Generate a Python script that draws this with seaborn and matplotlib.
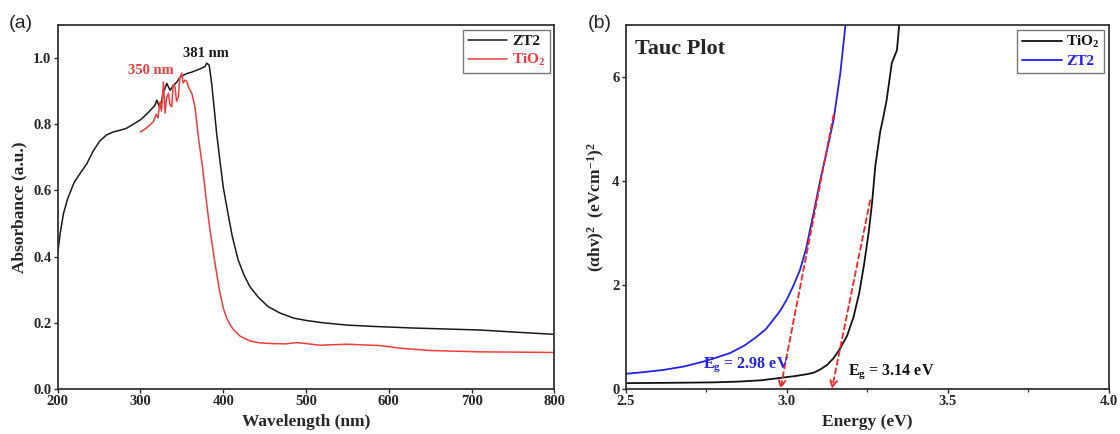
import numpy as np
import pandas as pd
import matplotlib
matplotlib.use("Agg")
import matplotlib.pyplot as plt
import seaborn as sns

# ---- (a) UV-vis absorbance ----
zt2_wl = [200, 203, 207, 212, 220, 228, 235, 243, 251, 259, 267, 275, 283, 291, 299.5,
          305, 311, 317.6, 319.7, 323.7, 327, 331.8, 335.8, 339, 343.9, 348, 352, 357.6,
          362, 368, 374, 378, 380, 383, 386, 389, 392, 396, 400, 405, 411, 418, 425,
          432, 442, 454, 468, 485, 500, 520, 549, 580, 630, 670, 710, 750, 799]
zt2_abs = [0.41, 0.47, 0.53, 0.575, 0.625, 0.655, 0.68, 0.72, 0.75, 0.768, 0.777, 0.782,
           0.788, 0.80, 0.813, 0.825, 0.84, 0.858, 0.873, 0.849, 0.89, 0.924, 0.903,
           0.915, 0.928, 0.943, 0.949, 0.955, 0.958, 0.964, 0.97, 0.975, 0.985, 0.979,
           0.924, 0.85, 0.773, 0.69, 0.61, 0.54, 0.46, 0.39, 0.345, 0.31, 0.278, 0.249,
           0.23, 0.214, 0.207, 0.20, 0.193, 0.189, 0.184, 0.181, 0.178, 0.172, 0.165]

tio2_wl = [300, 305, 310, 315.6, 319, 321, 323.7, 325.5, 327.7, 329.7, 331.5, 333.8,
           335.5, 337.8, 339.5, 341.8, 343.5, 345.8, 347.5, 349.9, 351.5, 353.9, 356,
           358, 362, 366, 370, 375, 380, 384, 390, 396, 400, 404, 408, 412, 420, 432,
           444, 460, 475, 489, 500, 517, 549, 589, 614, 650, 710, 760, 799]
tio2_abs = [0.777, 0.785, 0.795, 0.808, 0.83, 0.82, 0.868, 0.84, 0.928, 0.834, 0.88,
            0.894, 0.86, 0.853, 0.92, 0.913, 0.87, 0.883, 0.94, 0.955, 0.925, 0.934,
            0.93, 0.913, 0.894, 0.85, 0.76, 0.67, 0.56, 0.48, 0.38, 0.29, 0.245, 0.215,
            0.195, 0.18, 0.16, 0.145, 0.139, 0.137, 0.136, 0.14, 0.137, 0.132, 0.135,
            0.131, 0.123, 0.116, 0.112, 0.111, 0.11]

# ---- (b) Tauc plot ----
zt2_e = [2.50, 2.56, 2.617, 2.68, 2.741, 2.78, 2.824, 2.87, 2.907, 2.935, 2.958, 2.98,
         2.999, 3.02, 3.041, 3.06, 3.072, 3.083, 3.104, 3.125, 3.145, 3.166, 3.182]
zt2_tauc = [0.29, 0.325, 0.365, 0.43, 0.525, 0.6, 0.69, 0.84, 1.006, 1.15, 1.33, 1.51,
            1.71, 1.98, 2.29, 2.7, 3.06, 3.38, 4.02, 4.6, 5.17, 6.07, 7.0]

tio2_e = [2.50, 2.60, 2.70, 2.772, 2.85, 2.92, 2.979, 3.03, 3.06, 3.083, 3.103, 3.125,
          3.145, 3.165, 3.187, 3.207, 3.225, 3.24, 3.255, 3.265, 3.275, 3.29, 3.30,
          3.31, 3.326, 3.342, 3.349]
tio2_tauc = [0.11, 0.115, 0.12, 0.125, 0.14, 0.165, 0.21, 0.25, 0.28, 0.31, 0.37, 0.46,
             0.59, 0.77, 1.02, 1.38, 1.85, 2.4, 3.05, 3.6, 4.3, 4.95, 5.24, 5.56, 6.27,
             6.52, 7.0]

# band gaps and upper ends of the linear fits
band_gaps = [2.98, 3.14]
fit_top_e = [3.145, 3.259]
fit_top_y = [5.27, 3.63]

df_a = pd.concat([
    pd.DataFrame({"wl": zt2_wl, "A": zt2_abs, "sample": "ZT2"}),
    pd.DataFrame({"wl": tio2_wl, "A": tio2_abs, "sample": "TiO$_2$"}),
])
df_b = pd.concat([
    pd.DataFrame({"E": tio2_e, "T": tio2_tauc, "sample": "TiO$_2$"}),
    pd.DataFrame({"E": zt2_e, "T": zt2_tauc, "sample": "ZT2"}),
])

sns.set_style("ticks")
plt.rcParams["font.family"] = ["Liberation Serif", "DejaVu Serif"]
plt.rcParams["mathtext.fontset"] = "custom"
plt.rcParams["mathtext.rm"] = "Liberation Serif:bold"
plt.rcParams["mathtext.it"] = "Liberation Serif:italic:bold"
plt.rcParams["mathtext.bf"] = "Liberation Serif:bold"
plt.rcParams["axes.edgecolor"] = "#333333"
plt.rcParams["xtick.direction"] = "out"
plt.rcParams["ytick.direction"] = "out"

fig = plt.figure(figsize=(11.2, 4.34), dpi=100)
ax1 = fig.add_axes([0.0515, 0.104, 0.4435, 0.838])
ax2 = fig.add_axes([0.5588, 0.104, 0.4312, 0.838])

# (a)
sns.lineplot(data=df_a, x="wl", y="A", hue="sample", sort=False,
             palette={"ZT2": "#1a1a1a", "TiO$_2$": "#f03c3c"}, linewidth=1.1,
             estimator=None, ax=ax1)
ax1.set_xlim(200, 800)
ax1.set_ylim(0, 1.1)
ax1.set_xticks(np.arange(200, 801, 100))
ax1.set_yticks(np.arange(0, 1.01, 0.2))
ax1.set_yticklabels([f"{v:.1f}" for v in np.arange(0, 1.01, 0.2)])
ax1.set_xlabel("Wavelength (nm)", fontsize=12.5, fontweight="bold", labelpad=4)
ax1.set_ylabel("Absorbance (a.u.)", fontsize=12.5, fontweight="bold", labelpad=4)
ax1.text(379, 1.015, "381 nm", fontsize=10.5, fontweight="bold", color="#1a1a1a",
         ha="center", va="center")
ax1.text(312, 0.964, "350 nm", fontsize=10.5, fontweight="bold", color="#f03c3c",
         ha="center", va="center")
leg1 = ax1.legend(loc="upper right", frameon=True, fancybox=False, fontsize=11,
                  handlelength=2.6, handletextpad=0.3, borderpad=0.3,
                  labelspacing=0.25, borderaxespad=0.3)
leg1.get_frame().set_edgecolor("#555555")
for t, c in zip(leg1.get_texts(), ["#1a1a1a", "#f03c3c"]):
    t.set_color(c)
    t.set_fontweight("bold")

# (b)
sns.lineplot(data=df_b, x="E", y="T", hue="sample", sort=False,
             palette={"TiO$_2$": "#111111", "ZT2": "#2020f0"}, linewidth=1.3,
             estimator=None, ax=ax2)
for eg, xe, ye in zip(band_gaps, fit_top_e, fit_top_y):
    ax2.annotate("", xy=(eg, 0.0), xytext=(xe, ye),
                 arrowprops=dict(arrowstyle="->", color="#ff2020", lw=1.3,
                                 linestyle=(0, (3, 2)), shrinkA=0, shrinkB=0,
                                 mutation_scale=12))
ax2.set_xlim(2.5, 4.0)
ax2.set_ylim(0, 7)
ax2.set_xticks([2.5, 3.0, 3.5, 4.0])
ax2.set_xticks([2.75, 3.25, 3.75], minor=True)
ax2.set_yticks([0, 2, 4, 6])
ax2.set_xlabel("Energy (eV)", fontsize=12.5, fontweight="bold", labelpad=4)
ax2.set_ylabel(r"(αhv)$^{2}$  (eVcm$^{-1}$)$^{2}$", fontsize=12.5,
               fontweight="bold", labelpad=4)
ax2.text(2.527, 6.55, "Tauc Plot", fontsize=16, fontweight="bold", va="center")
ax2.text(2.74, 0.46, r"E$_{\rm g}$ = 2.98 eV", fontsize=11.5, fontweight="bold",
         color="#2020f0", va="center")
ax2.text(3.19, 0.33, r"E$_{\rm g}$ = 3.14 eV", fontsize=11.5, fontweight="bold",
         color="#111111", va="center")
leg2 = ax2.legend(loc="upper right", frameon=True, fancybox=False, fontsize=11,
                  handlelength=2.6, handletextpad=0.3, borderpad=0.3,
                  labelspacing=0.25, borderaxespad=0.3)
leg2.get_frame().set_edgecolor("#555555")
for t, c in zip(leg2.get_texts(), ["#111111", "#2020f0"]):
    t.set_color(c)
    t.set_fontweight("bold")

for ax in (ax1, ax2):
    for s in ax.spines.values():
        s.set_visible(True)
        s.set_linewidth(1.3)
    ax.tick_params(axis="both", which="major", length=3, width=1, labelsize=10.5, pad=1.5)
    ax.tick_params(axis="both", which="minor", length=2, width=0.8)
    for lbl in ax.get_xticklabels() + ax.get_yticklabels():
        lbl.set_fontweight("bold")

fig.text(0.008, 0.945, "(a)", fontsize=14, family="Liberation Sans", va="center")
fig.text(0.525, 0.945, "(b)", fontsize=14, family="Liberation Sans", va="center")

fig.savefig("out.png", dpi=100)
